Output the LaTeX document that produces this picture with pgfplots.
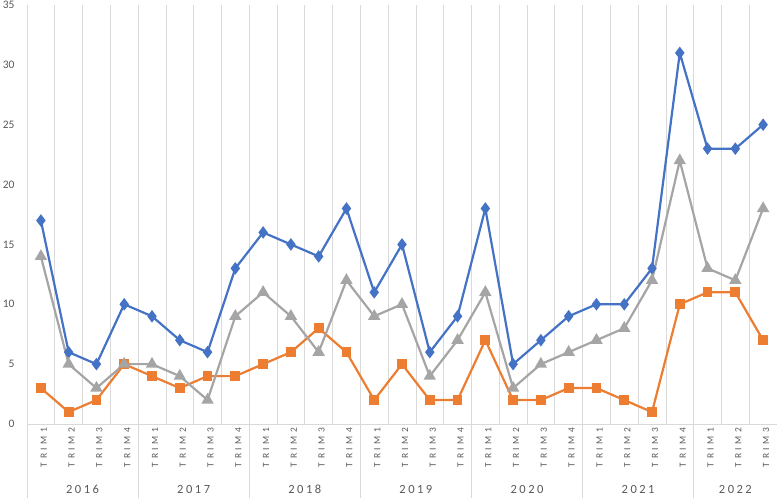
\documentclass[border=0pt]{standalone}
\usepackage{fontspec}
\setmainfont{Carlito}
\newfontfamily\trimfont[LetterSpace=38]{Carlito}
\newfontfamily\yearfont[LetterSpace=20]{Carlito}
\usepackage{pgfplots}
\usepackage{pgfplotstable}
\pgfplotsset{compat=1.18}

\definecolor{sblue}{HTML}{4472C4}
\definecolor{sorange}{HTML}{ED7D31}
\definecolor{sgray}{HTML}{A5A5A5}
\definecolor{labelgray}{HTML}{595959}
\definecolor{gridgray}{HTML}{D9D9D9}

% quarters 2016 T1 .. 2022 T3
\pgfplotstableread{
idx blue orange gray
0  17  3 14
1   6  1  5
2   5  2  3
3  10  5  5
4   9  4  5
5   7  3  4
6   6  4  2
7  13  4  9
8  16  5 11
9  15  6  9
10 14  8  6
11 18  6 12
12 11  2  9
13 15  5 10
14  6  2  4
15  9  2  7
16 18  7 11
17  5  2  3
18  7  2  5
19  9  3  6
20 10  3  7
21 10  2  8
22 13  1 12
23 31 10 22
24 23 11 13
25 23 11 12
26 25  7 18
}\quarters

\begin{document}
\begin{tikzpicture}
\begin{axis}[
  scale only axis,
  width=750bp, height=419bp,
  xmin=-0.5, xmax=26.5,
  ymin=0, ymax=35,
  clip=false,
  axis line style={draw=none},
  tick style={draw=none},
  xtick={0,...,26},
  xticklabels={TRIM1,TRIM2,TRIM3,TRIM4,TRIM1,TRIM2,TRIM3,TRIM4,
    TRIM1,TRIM2,TRIM3,TRIM4,TRIM1,TRIM2,TRIM3,TRIM4,
    TRIM1,TRIM2,TRIM3,TRIM4,TRIM1,TRIM2,TRIM3,TRIM4,
    TRIM1,TRIM2,TRIM3},
  xticklabel style={rotate=90, anchor=east, text=labelgray, yshift=-3bp,
    font=\trimfont\fontsize{9.5bp}{10bp}\selectfont},
  minor xtick={-0.5,0.5,...,26.5},
  xminorgrids,
  minor grid style={draw=gridgray, line width=0.75bp},
  ytick={0,5,...,35},
  yticklabel style={text=labelgray, font=\fontsize{11.5bp}{12bp}\selectfont, xshift=-9bp},
  /pgf/number format/assume math mode=true,
  every axis plot/.append style={line width=2.2bp},
]
\draw[gridgray, line width=0.75bp] (axis cs:-0.5,0) -- (axis cs:26.5,0);
\pgfplotsinvokeforeach{-0.5,3.5,7.5,11.5,15.5,19.5,23.5,26.5}{
  \draw[gridgray, line width=0.75bp] (axis cs:#1,0) -- ([yshift=-74bp]axis cs:#1,0);
}
\addplot[color=sblue, mark=diamond*, mark size=4.5bp] table[x=idx, y=blue] {\quarters};
\addplot[color=sorange, mark=square*, mark size=3.8bp] table[x=idx, y=orange] {\quarters};
\addplot[color=sgray, mark=triangle*, mark size=5bp] table[x=idx, y=gray] {\quarters};

\foreach \pos/\yr in {1.5/2016,5.5/2017,9.5/2018,13.5/2019,17.5/2020,21.5/2021}{
  \edef\tmp{\noexpand\node[text=labelgray, font=\noexpand\yearfont\noexpand\fontsize{12.5bp}{13bp}\noexpand\selectfont] at ([yshift=-65bp]axis cs:\pos,0) {\yr};}\tmp
}
\node[text=labelgray, font=\yearfont\fontsize{12.5bp}{13bp}\selectfont] at ([yshift=-65bp]axis cs:25,0) {2022};
\end{axis}
\pgfresetboundingbox
\path[use as bounding box] ([xshift=-27bp,yshift=-74bp]current axis.south west) rectangle ([yshift=5bp]current axis.north east);
\end{tikzpicture}
\end{document}
